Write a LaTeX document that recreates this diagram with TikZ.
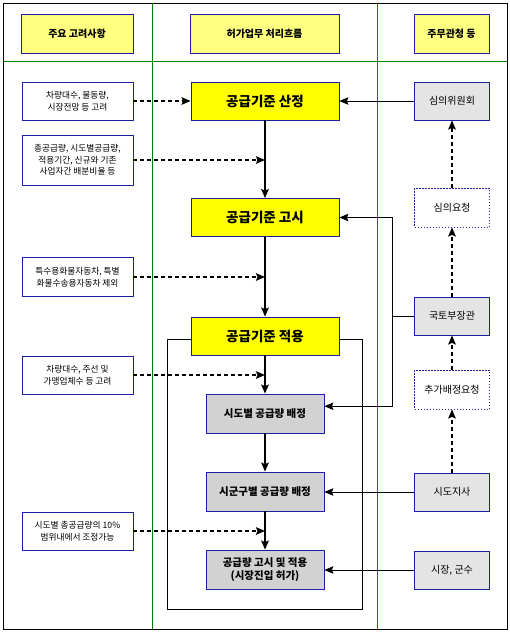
\documentclass[tikz,border=0pt]{standalone}
\usepackage{fontspec}
\setmainfont{Noto Sans CJK KR}
\usetikzlibrary{arrows.meta,calc}
\definecolor{boxblue}{RGB}{30,30,165}
\definecolor{headyellow}{RGB}{255,255,128}
\definecolor{mainyellow}{RGB}{255,255,0}
\definecolor{subgray}{RGB}{210,210,210}
\definecolor{officegray}{RGB}{228,228,228}
\definecolor{sepgreen}{RGB}{0,128,0}
\begin{document}
\begin{tikzpicture}[x=1pt,y=-1pt,
    box/.style={draw=boxblue, line width=0.8pt, inner sep=0pt, align=center},
    headbox/.style={box, fill=headyellow, minimum height=39pt, font=\fontsize{10}{12}\selectfont\bfseries},
    notebox/.style={box, fill=white, minimum width=111pt, minimum height=38pt, font=\fontsize{8.7}{11.5}\selectfont},
    stepmain/.style={box, fill=mainyellow, minimum width=148pt, minimum height=38pt, font=\fontsize{13.5}{15}\selectfont\bfseries},
    stepsub/.style={box, fill=subgray, minimum width=118pt, minimum height=39pt, font=\fontsize{10.5}{13}\selectfont\bfseries},
    office/.style={box, fill=officegray, minimum width=75pt, minimum height=38pt, font=\fontsize{10}{12}\selectfont},
    request/.style={box, fill=white, dash pattern=on 1.5pt off 1.5pt, minimum width=75pt, minimum height=39pt, font=\fontsize{10}{12}\selectfont},
    sep/.style={draw=sepgreen, line width=0.9pt},
    tip/.tip={Stealth[length=9pt,width=7.5pt,inset=1.5pt]},
    flow/.style={line width=2pt, -tip},
    hint/.style={line width=2pt, dash pattern=on 4pt off 3pt, -tip},
    link/.style={line width=0.8pt, -tip}]
\useasboundingbox (0,0) rectangle (510,633);
\draw[line width=1pt] (3,3) rectangle (507,629);
\draw[sep] (152,3) -- (152,629);
\draw[sep] (377,3) -- (377,629);
\draw[sep] (3,61) -- (507,61);
\draw[line width=0.8pt] (167,339) rectangle (362,609);

\node[headbox, minimum width=112pt] (hA) at (77,33.5) {주요 고려사항};
\node[headbox, minimum width=149pt] (hB) at (264.5,33.5) {허가업무 처리흐름};
\node[headbox, minimum width=75pt] (hC) at (451.5,33.5) {주무관청 등};

\node[notebox] (c1) at (77.5,101) {차량대수, 물동량,\\시장전망 등 고려};
\node[notebox, minimum height=50pt] (c2) at (77.5,160) {총공급량, 시도별공급량,\\적용기간, 신규와 기존\\사업자간 배분비율 등};
\node[notebox, minimum height=39pt] (c3) at (77.5,277) {특수용화물자동차, 특별\\화물수송용자동차 제외};
\node[notebox] (c4) at (77.5,375) {차량대수, 주선 및\\가맹업체수 등 고려};
\node[notebox] (c5) at (77.5,531) {시도별 총공급량의 10\%\\범위내에서 조정가능};

\node[stepmain] (s1) at (265,101) {공급기준 산정};
\node[stepmain] (s2) at (265,217.5) {공급기준 고시};
\node[stepmain] (s3) at (265,336) {공급기준 적용};
\node[stepsub] (g1) at (265,413.5) {시도별 공급량 배정};
\node[stepsub] (g2) at (265,491.5) {시군구별 공급량 배정};
\node[stepsub] (g3) at (265,569.5) {공급량 고시 및 적용\\(시장진입 허가)};

\node[office] (r1) at (452,101) {심의위원회};
\node[request] (r2) at (452,207.5) {심의요청};
\node[office] (r3) at (452,316) {국토부장관};
\node[request] (r4) at (452,389.5) {추가배정요청};
\node[office] (r5) at (452,492) {시도지사};
\node[office] (r6) at (452,570) {시장, 군수};

\draw[flow] (s1) -- (s2);
\draw[flow] (s2) -- (s3);
\draw[flow] (s3) -- (g1);
\draw[flow] (g1) -- (g2);
\draw[flow] (g2) -- (g3);

\draw[hint] (c1) -- (s1);
\draw[hint] (c2.east) -- (c2.east -| s1.south);
\draw[hint] (c3.east) -- (c3.east -| s2.south);
\draw[hint] (c4.east) -- (c4.east -| s3.south);
\draw[hint] (c5.east) -- (c5.east -| g2.south);

\draw[hint] (r3) -- (r2);
\draw[hint] (r2) -- (r1);
\draw[hint] (r5) -- (r4);
\draw[hint] (r4) -- (r3);

\coordinate (jn) at (392,316);
\draw[link] (r1) -- (s1);
\draw[line width=0.8pt] (r3.west) -- (jn);
\draw[link] (jn) |- (s2.east);
\draw[link] (jn) |- (g1.7);
\draw[link] (r5.west) -- (r5.west -| g2.east);
\draw[link] (r6.west) -- (r6.west -| g3.east);
\end{tikzpicture}
\end{document}
